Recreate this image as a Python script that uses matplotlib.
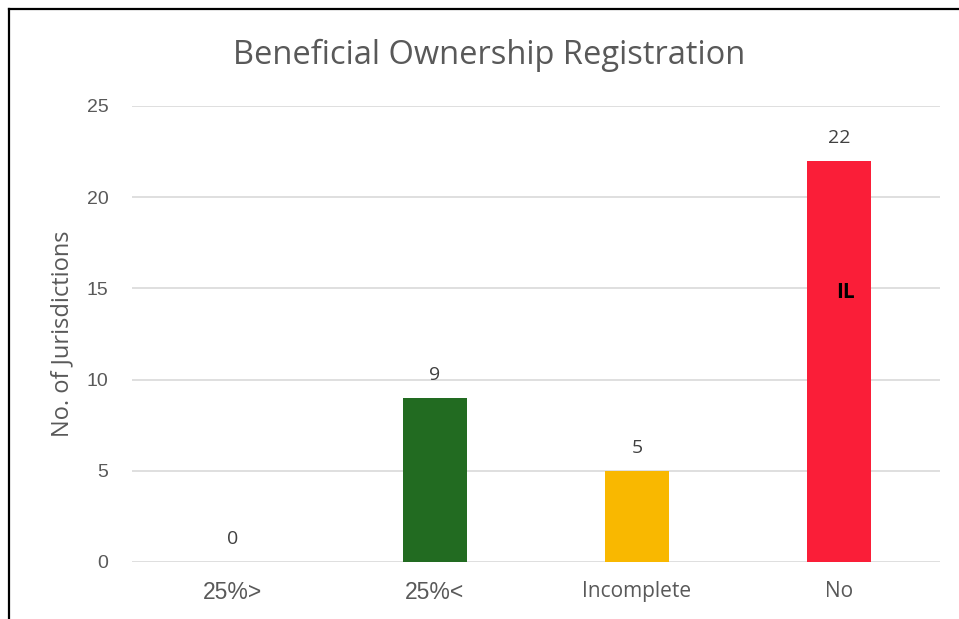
import matplotlib
matplotlib.use("Agg")
import matplotlib.pyplot as plt
from matplotlib.lines import Line2D

categories = ["25%>", "25%<", "Incomplete", "No"]
values = [0, 9, 5, 22]
colors = ["#4472C4", "#226B21", "#F9B800", "#FA1E38"]
yticks = [0, 5, 10, 15, 20, 25]

plt.rcParams['font.family'] = ['Open Sans', 'DejaVu Sans']

fig = plt.figure(figsize=(9.59, 6.19), dpi=100)
ax = fig.add_axes([132/959, 1-562/619, 808/959, 456/619])

x = list(range(len(categories)))
bars = ax.bar(x, values, width=0.317, color=colors, zorder=3)
for xi, v in zip(x, values):
    ax.text(xi, v + 0.75, str(v), ha='center', va='bottom', fontsize=14, color='#404040')

ax.text(3.03, 14.8, "IL", ha='center', va='center', fontsize=15, fontweight='bold', color='black', zorder=4)

ax.set_xlim(-0.5, 3.5)
ax.set_ylim(0, 25)
ax.set_yticks(yticks)
ax.set_xticks(x)
ax.set_xticklabels(categories)
ax.tick_params(axis='both', length=0, colors='#595959')
ax.tick_params(axis='y', pad=17, labelsize=14)
ax.tick_params(axis='x', pad=14)
for lbl in ax.get_yticklabels():
    lbl.set_family(['Liberation Sans', 'DejaVu Sans'])
for lbl, cat in zip(ax.get_xticklabels(), categories):
    if cat.startswith('25'):
        lbl.set_family(['Liberation Sans', 'DejaVu Sans'])
        lbl.set_fontsize(16.5)
    else:
        lbl.set_fontsize(15)
ax.grid(axis='y', color='#D9D9D9', linewidth=1.2, zorder=0)
for s in ax.spines.values():
    s.set_visible(False)
ax.set_ylabel("No. of Jurisdictions", fontsize=17, color='#595959', labelpad=9)

fig.text(489/959, 1-55/619, "Beneficial Ownership Registration", ha='center', va='center',
         fontsize=23.5, color='#595959')

fig.add_artist(Line2D([8.5/959, 8.5/959], [0, 1-8.5/619], transform=fig.transFigure, color='black', linewidth=1.6))
fig.add_artist(Line2D([8.5/959, 1], [1-8.5/619, 1-8.5/619], transform=fig.transFigure, color='black', linewidth=1.6))

fig.savefig("out.png", dpi=100, facecolor='white')
